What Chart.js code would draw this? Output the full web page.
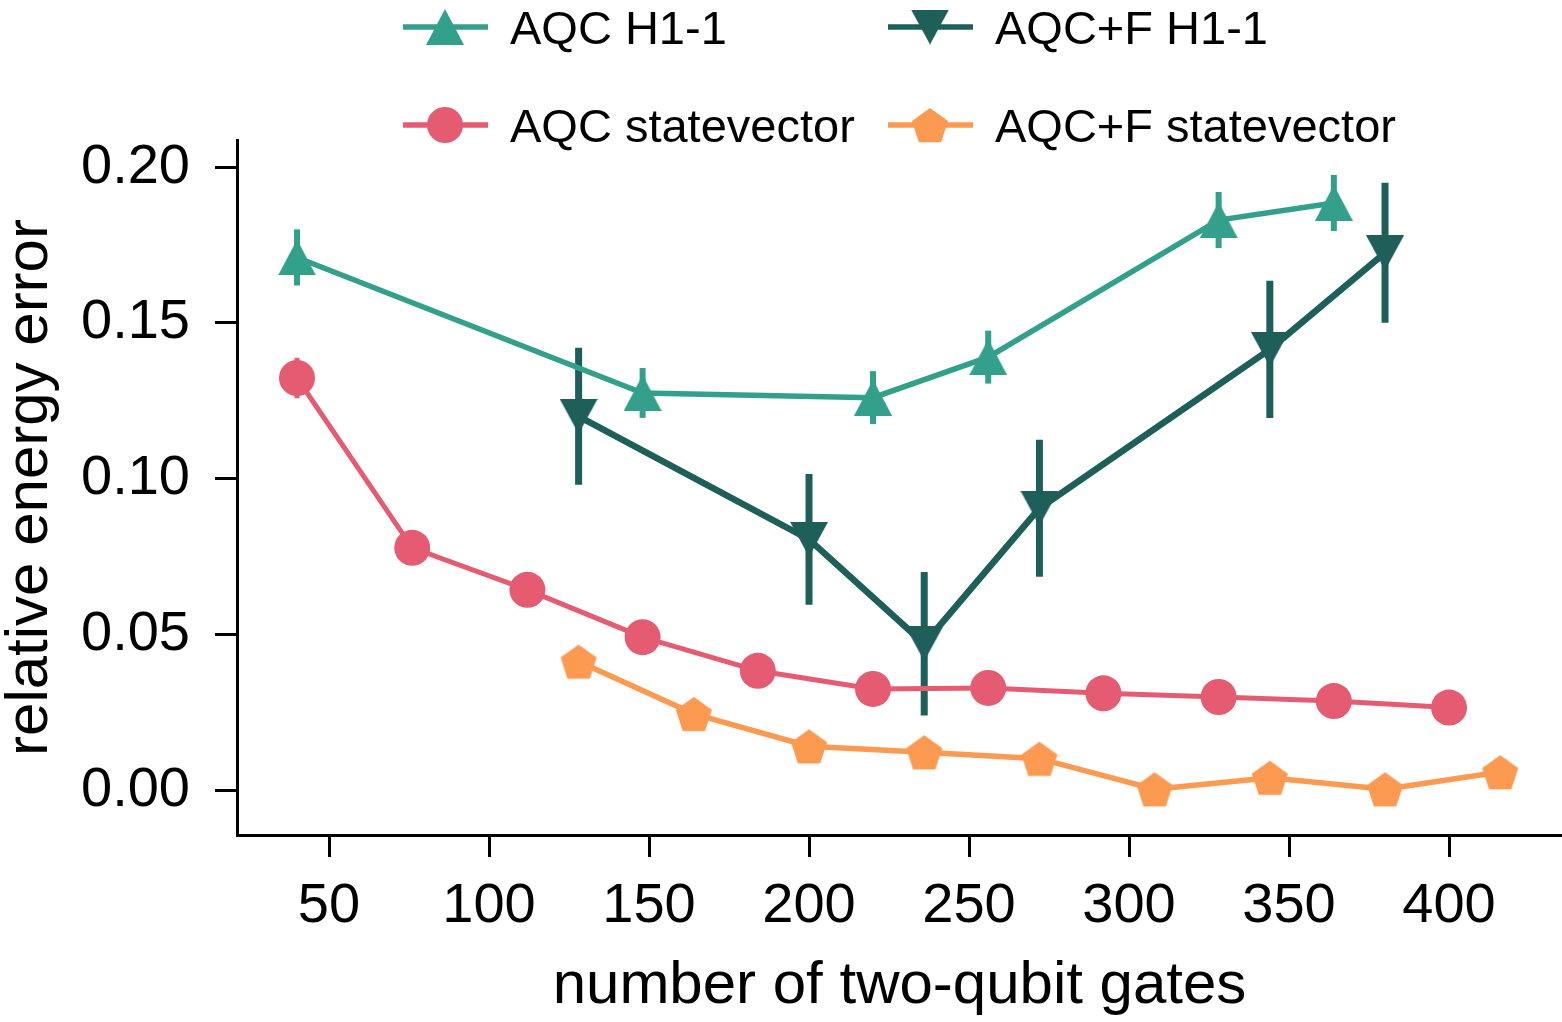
<!DOCTYPE html>
<html>
<head>
<meta charset="utf-8">
<script src="https://cdn.jsdelivr.net/npm/chart.js@4.4.0/dist/chart.umd.min.js"></script>
<style>
  html, body { margin: 0; padding: 0; background: #fff; }
  #wrap { width: 1562px; height: 1022px; position: relative; }
</style>
</head>
<body>
<div id="wrap"><canvas id="myChart"></canvas></div>
<script>
// data
const xAqcH1 = [40, 148, 220, 256, 328, 364];
const yAqcH1 = [0.171, 0.1275, 0.126, 0.139, 0.183, 0.1885];
const eAqcH1 = [0.009, 0.008, 0.0085, 0.0085, 0.009, 0.009];

const xAqcfH1 = [128, 200, 236, 272, 344, 380];
const yAqcfH1 = [0.120, 0.0805, 0.047, 0.0905, 0.1415, 0.1725];
const eAqcfH1 = [0.022, 0.021, 0.023, 0.022, 0.022, 0.0225];

const xAqcSv = [40, 76, 112, 148, 184, 220, 256, 292, 328, 364, 400];
const yAqcSv = [0.1323, 0.0778, 0.0643, 0.0491, 0.0383, 0.0325, 0.0328, 0.0311, 0.0299, 0.0286, 0.0265];
const eAqcSv = [0.0065, 0, 0, 0, 0, 0, 0, 0, 0, 0, 0];

const xAqcfSv = [128, 164, 200, 236, 272, 308, 344, 380, 416];
const yAqcfSv = [0.0413, 0.0245, 0.0141, 0.0122, 0.0101, 0.0003, 0.0040, 0.0003, 0.0058];

const xTickValues = [50, 100, 150, 200, 250, 300, 350, 400];
const yTickValues = [0, 0.05, 0.10, 0.15, 0.20];

const cTeal = '#32a08b';
const cDark = '#1e5f59';
const cRed = '#e55c72';
const cOrange = '#fd9a52';

const FONT = 'Liberation Sans, Arial, sans-serif';

function pts(xs, ys) {
  return xs.map((x, i) => ({ x: x, y: ys[i] }));
}

// marker images, matplotlib-like shapes
function marker(kind, color, w, h) {
  const c = document.createElement('canvas');
  c.width = w; c.height = h;
  const g = c.getContext('2d');
  g.fillStyle = color;
  g.beginPath();
  if (kind === 'up') {
    g.moveTo(w / 2, 0); g.lineTo(w, h); g.lineTo(0, h);
  } else if (kind === 'down') {
    g.moveTo(0, 0); g.lineTo(w, 0); g.lineTo(w / 2, h);
  } else if (kind === 'pent') {
    const r = w / 2;
    for (let i = 0; i < 5; i++) {
      const a = -Math.PI / 2 + i * 2 * Math.PI / 5;
      const px = w / 2 + r * Math.cos(a), py = h / 2 + r * Math.sin(a) + r * 0.1;
      if (i === 0) g.moveTo(px, py); else g.lineTo(px, py);
    }
  } else {
    g.arc(w / 2, h / 2, w / 2, 0, Math.PI * 2);
  }
  g.closePath();
  g.fill();
  return c;
}

const mUp = marker('up', cTeal, 38, 36);
const mDown = marker('down', cDark, 38, 35);
const mCircle = marker('circle', cRed, 36, 36);
const mPent = marker('pent', cOrange, 38, 38);

const errors = [
  { ds: 0, err: eAqcH1, color: cTeal, width: 6 },
  { ds: 1, err: eAqcSv, color: cRed, width: 5 },
  { ds: 2, err: eAqcfH1, color: cDark, width: 7 }
];

const errorBars = {
  id: 'errorBars',
  beforeDatasetsDraw(chart) {
    const ctx = chart.ctx;
    const xs = chart.scales.x, ys = chart.scales.y;
    ctx.save();
    errors.forEach(e => {
      const data = chart.data.datasets[e.ds].data;
      ctx.strokeStyle = e.color;
      ctx.lineWidth = e.width;
      data.forEach((p, i) => {
        if (!e.err[i]) return;
        const px = xs.getPixelForValue(p.x);
        ctx.beginPath();
        ctx.moveTo(px, ys.getPixelForValue(p.y - e.err[i]));
        ctx.lineTo(px, ys.getPixelForValue(p.y + e.err[i]));
        ctx.stroke();
      });
    });
    ctx.restore();
  }
};

const legendItems = [
  { label: 'AQC H1-1', color: cTeal, img: mUp, col: 0, row: 0 },
  { label: 'AQC statevector', color: cRed, img: mCircle, col: 0, row: 1 },
  { label: 'AQC+F H1-1', color: cDark, img: mDown, col: 1, row: 0 },
  { label: 'AQC+F statevector', color: cOrange, img: mPent, col: 1, row: 1 }
];

const twoColLegend = {
  id: 'twoColLegend',
  afterDraw(chart) {
    const ctx = chart.ctx;
    ctx.save();
    legendItems.forEach(it => {
      const x0 = 403 + it.col * 485;
      const y0 = 27 + it.row * 98;
      ctx.strokeStyle = it.color;
      ctx.lineWidth = 5.5;
      ctx.beginPath();
      ctx.moveTo(x0, y0);
      ctx.lineTo(x0 + 85, y0);
      ctx.stroke();
      ctx.drawImage(it.img, x0 + 42 - it.img.width / 2, y0 - it.img.height / 2);
      ctx.fillStyle = '#000';
      ctx.font = '47px ' + FONT;
      ctx.textBaseline = 'alphabetic';
      ctx.fillText(it.label, x0 + 107, y0 + 17);
    });
    ctx.restore();
  }
};

new Chart(document.getElementById('myChart'), {
  type: 'line',
  data: {
    datasets: [
      {
        label: 'AQC H1-1',
        data: pts(xAqcH1, yAqcH1),
        borderColor: cTeal,
        backgroundColor: cTeal,
        borderWidth: 5.5,
        pointStyle: mUp,
        order: 4
      },
      {
        label: 'AQC statevector',
        data: pts(xAqcSv, yAqcSv),
        borderColor: cRed,
        backgroundColor: cRed,
        borderWidth: 5,
        pointStyle: 'circle',
        pointRadius: 18,
        pointBorderWidth: 0,
        order: 3
      },
      {
        label: 'AQC+F H1-1',
        data: pts(xAqcfH1, yAqcfH1),
        borderColor: cDark,
        backgroundColor: cDark,
        borderWidth: 6.5,
        pointStyle: mDown,
        order: 2
      },
      {
        label: 'AQC+F statevector',
        data: pts(xAqcfSv, yAqcfSv),
        borderColor: cOrange,
        backgroundColor: cOrange,
        borderWidth: 5.5,
        pointStyle: mPent,
        order: 1
      }
    ]
  },
  options: {
    responsive: true,
    maintainAspectRatio: false,
    animation: false,
    layout: { autoPadding: false, padding: { top: 140, right: 0, left: 0, bottom: 0 } },
    plugins: {
      legend: { display: false },
      tooltip: { enabled: false }
    },
    scales: {
      x: {
        type: 'linear',
        min: 21.25,
        max: 435.3,
        afterBuildTicks: s => { s.ticks = xTickValues.map(v => ({ value: v })); },
        afterFit: s => { s.height = 187; s.paddingLeft = 0; s.paddingRight = 0; },
        grid: { drawOnChartArea: false, tickLength: 22, tickWidth: 3, tickColor: '#000' },
        border: { color: '#000', width: 3 },
        ticks: {
          color: '#000',
          font: { family: FONT, size: 56 },
          padding: 16,
          maxRotation: 0,
          autoSkip: false,
          callback: v => String(v)
        },
        title: {
          display: true,
          text: 'number of two-qubit gates',
          color: '#000',
          font: { family: FONT, size: 60, lineHeight: 1.2 },
          padding: { top: 0, bottom: 0 }
        }
      },
      y: {
        min: -0.0144,
        max: 0.2087,
        afterBuildTicks: s => { s.ticks = yTickValues.map(v => ({ value: v })); },
        afterFit: s => { s.width = 237; s.paddingTop = 0; s.paddingBottom = 0; },
        grid: { drawOnChartArea: false, tickLength: 22, tickWidth: 3, tickColor: '#000' },
        border: { color: '#000', width: 3 },
        ticks: {
          color: '#000',
          font: { family: FONT, size: 56 },
          padding: 25,
          autoSkip: false,
          callback: v => v.toFixed(2)
        },
        title: {
          display: true,
          text: 'relative energy error',
          color: '#000',
          font: { family: FONT, size: 60, lineHeight: 1 },
          padding: { top: 0, bottom: 0 }
        }
      }
    }
  },
  plugins: [errorBars, twoColLegend]
});
</script>
</body>
</html>
